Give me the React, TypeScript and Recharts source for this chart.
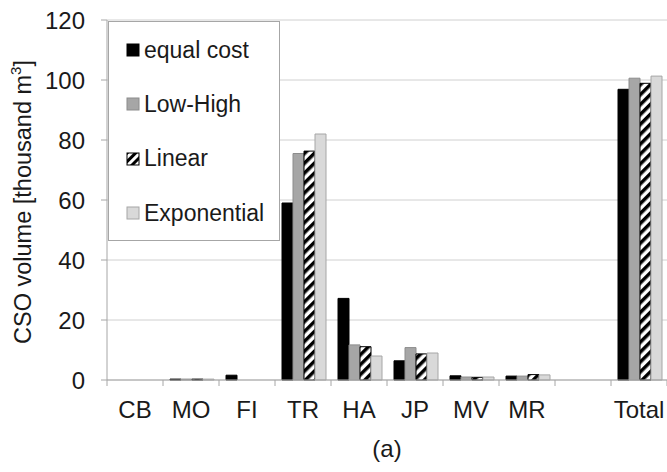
import { BarChart, Bar, XAxis, YAxis, CartesianGrid, Legend } from 'recharts';

// Sewer catchments (one empty slot before the total)
const catchments = ['CB', 'MO', 'FI', 'TR', 'HA', 'JP', 'MV', 'MR', '', 'Total'];

// CSO volume per strategy [thousand m3]
const equalCost = [0, 0.3, 1.6, 59, 27.2, 6.4, 1.4, 1.3, null, 96.9];
const lowHigh = [0, 0.3, 0, 75.5, 11.7, 10.8, 1.0, 1.3, null, 100.6];
const linear = [0, 0.3, 0, 76.3, 11.1, 8.7, 0.9, 1.8, null, 98.9];
const exponential = [0, 0.3, 0, 82, 8, 9, 1.0, 1.7, null, 101.3];

const yTicks = [0, 20, 40, 60, 80, 100, 120];

const data = catchments.map((name, i) => ({
  name,
  equal: equalCost[i],
  lowHigh: lowHigh[i],
  linear: linear[i],
  exponential: exponential[i],
}));

const FONT = '"Liberation Sans", Arial, sans-serif';
const BAND = 56;

const legendItems = [
  { label: 'equal cost', fill: '#000', stroke: '#000' },
  { label: 'Low-High', fill: '#a6a6a6', stroke: '#8c8c8c' },
  { label: 'Linear', fill: 'url(#hatchLegend)', stroke: '#000' },
  { label: 'Exponential', fill: '#d9d9d9', stroke: '#a6a6a6' },
];

const renderLegend = () => (
  <div
    style={{
      width: 170,
      height: 217,
      border: '1px solid #a6a6a6',
      background: '#fff',
      boxSizing: 'content-box',
      fontFamily: FONT,
      fontSize: 23,
      color: '#1a1a1a',
      paddingTop: 1,
    }}
  >
    {legendItems.map((it) => (
      <div key={it.label} style={{ display: 'flex', alignItems: 'center', height: 54.3, paddingLeft: 17 }}>
        <svg width={14} height={14} style={{ marginRight: 4 }}>
          <defs>
            <pattern id="hatchLegend" width="6" height="6" patternUnits="userSpaceOnUse" patternTransform="rotate(45)">
              <rect width="6" height="6" fill="#fff" />
              <rect width="3" height="6" fill="#000" />
            </pattern>
          </defs>
          <rect x={1} y={1} width={12} height={12} fill={it.fill} stroke={it.stroke} />
        </svg>
        <span>{it.label}</span>
      </div>
    ))}
  </div>
);

const CategoryTick = (props: any) => {
  const { x, y, payload, index } = props;
  return (
    <g>
      <line x1={x - BAND / 2} x2={x - BAND / 2} y1={y - 6} y2={y} stroke="#a6a6a6" />
      {index === catchments.length - 1 && (
        <line x1={x + BAND / 2} x2={x + BAND / 2} y1={y - 6} y2={y} stroke="#a6a6a6" />
      )}
      <text x={x} y={y + 32} textAnchor="middle" fill="#1a1a1a" fontSize={24} fontFamily={FONT}>
        {payload.value}
      </text>
    </g>
  );
};

const YLabel = () => (
  <text
    x={23}
    y={202}
    transform="rotate(-90 23 202)"
    textAnchor="middle"
    dominantBaseline="central"
    fill="#1a1a1a"
    fontSize={23.5}
    fontFamily={FONT}
  >
    CSO volume [thousand m<tspan dy={-8} fontSize={15}>3</tspan>
    <tspan dy={8}>]</tspan>
  </text>
);

export default function App() {
  return (
    <div style={{ position: 'absolute', left: 0, top: 0, width: 667, height: 472, background: '#fff' }}>
      <BarChart
        width={667}
        height={472}
        data={data}
        margin={{ top: 20, right: 0, bottom: 0, left: 0 }}
        barCategoryGap="12.5%"
        barGap={0}
      >
        <defs>
          <pattern id="hatch" width="7" height="7" patternUnits="userSpaceOnUse" patternTransform="rotate(45)">
            <rect width="7" height="7" fill="#fff" />
            <rect width="3.5" height="7" fill="#000" />
          </pattern>
        </defs>
        <CartesianGrid vertical={false} stroke="#d0d0d0" />
        <XAxis
          dataKey="name"
          height={92}
          stroke="#a6a6a6"
          tickLine={false}
          tickSize={6}
          tickMargin={0}
          interval={0}
          tick={<CategoryTick />}
          label={{ value: '(a)', position: 'insideBottom', offset: 15, fontSize: 24, fill: '#1a1a1a', fontFamily: FONT }}
        />
        <YAxis
          width={107}
          domain={[0, 120]}
          ticks={yTicks}
          stroke="#a6a6a6"
          tickSize={6}
          tickMargin={16}
          tick={{ fontSize: 24, fill: '#1a1a1a', fontFamily: FONT }}
          label={{ content: () => <YLabel /> }}
        />
        <Legend
          layout="vertical"
          align="center"
          verticalAlign="middle"
          content={renderLegend}
          wrapperStyle={{ position: 'absolute', left: 108, top: 21, width: 172, height: 220 }}
        />
        <Bar dataKey="equal" name="equal cost" fill="#000" stroke="#000" isAnimationActive={false} />
        <Bar dataKey="lowHigh" name="Low-High" fill="#a6a6a6" stroke="#8c8c8c" isAnimationActive={false} />
        <Bar dataKey="linear" name="Linear" fill="url(#hatch)" stroke="#000" isAnimationActive={false} />
        <Bar dataKey="exponential" name="Exponential" fill="#d9d9d9" stroke="#a6a6a6" isAnimationActive={false} />
      </BarChart>
    </div>
  );
}
